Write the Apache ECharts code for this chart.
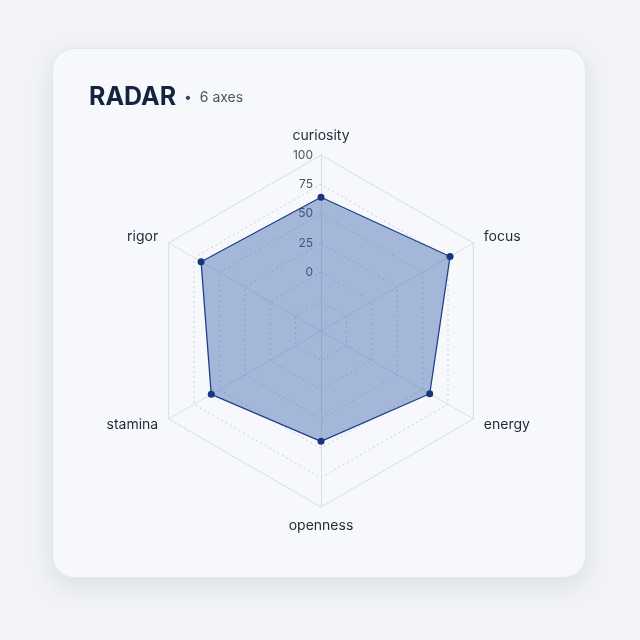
<!DOCTYPE html>
<html>
<head>
<meta charset="utf-8">
<script src="https://cdn.jsdelivr.net/npm/echarts@6/dist/echarts.min.js"></script>
<style>
  html, body { margin: 0; padding: 0; background: #f1f3f6; }
  .card {
    position: absolute; left: 52px; top: 48px; width: 532px; height: 528px;
    background: #f6f8fb; border: 1px solid #e4e8ee; border-radius: 22px;
    box-shadow: 0 8px 24px rgba(30, 41, 59, 0.10);
  }
  #main { position: absolute; left: 0; top: 0; width: 640px; height: 640px; }
</style>
</head>
<body>
<div class="card"></div>
<div id="main"></div>
<script>
  // 轴名称与数值（顺时针，从顶部开始）
  var axesNames = ['curiosity', 'focus', 'energy', 'openness', 'stamina', 'rigor'];
  var scores = [64, 77, 57, 44, 58, 68];
  var tickMin = -50, tickMax = 100, tickStep = 25;

  // echarts 雷达图默认逆时针，所以把第一个之后的顺序反过来
  function ccw(arr) {
    return [arr[0]].concat(arr.slice(1).reverse());
  }

  var myChart = echarts.init(document.getElementById('main'));

  var indicators = ccw(axesNames).map(function (n, i) {
    var ind = { name: n, min: tickMin, max: tickMax };
    if (i === 0) ind.axisLabel = { show: true };
    return ind;
  });

  var option = {
    title: {
      left: 84, top: 80,
      text: '{a|RADAR}{dot|  •  }{b|6 axes}',
      textStyle: {
        rich: {
          a: { fontFamily: 'Inter', fontSize: 25, fontWeight: 'bold', color: '#15233f' },
          dot: { fontFamily: 'Inter', fontSize: 14, fontWeight: 'normal', color: '#34466a' },
          b: { fontFamily: 'Inter', fontSize: 14, fontWeight: 'normal', color: '#4b5563' }
        }
      }
    },
    radar: [{
      center: [321, 331],
      radius: 176,
      startAngle: 90,
      shape: 'polygon',
      splitNumber: 6,
      nameGap: 12,
      axisName: { color: '#1f2937', fontFamily: 'Inter', fontSize: 14 },
      indicator: indicators,
      axisLabel: {
        show: false,
        color: '#4b5563', fontFamily: 'Inter', fontSize: 12, margin: 8,
        formatter: function (v) { return v < 0 ? '' : v; }
      },
      axisTick: { show: false },
      axisLine: { lineStyle: { color: '#d9dfe8', width: 1 } },
      splitLine: { lineStyle: { color: '#c9d0db', type: [2, 3], width: 1 } },
      splitArea: { show: false }
    }, {
      center: [321, 331],
      radius: 176,
      startAngle: 90,
      shape: 'polygon',
      splitNumber: 1,
      axisName: { show: false },
      indicator: axesNames.map(function (n) { return { name: n, min: tickMin, max: tickMax }; }),
      axisLine: { show: false },
      axisTick: { show: false },
      axisLabel: { show: false },
      splitLine: { lineStyle: { color: '#dde2ea', width: 1 } },
      splitArea: { show: false }
    }],
    series: [{
      type: 'radar',
      radarIndex: 0,
      symbol: 'circle',
      symbolSize: 7,
      lineStyle: { color: '#1c3a8a', width: 1.3 },
      itemStyle: { color: '#17367f' },
      areaStyle: { color: 'rgba(44, 84, 164, 0.4)', opacity: 1 },
      data: [{ value: ccw(scores), name: 'score' }]
    }]
  };

  myChart.setOption(option);
</script>
</body>
</html>
